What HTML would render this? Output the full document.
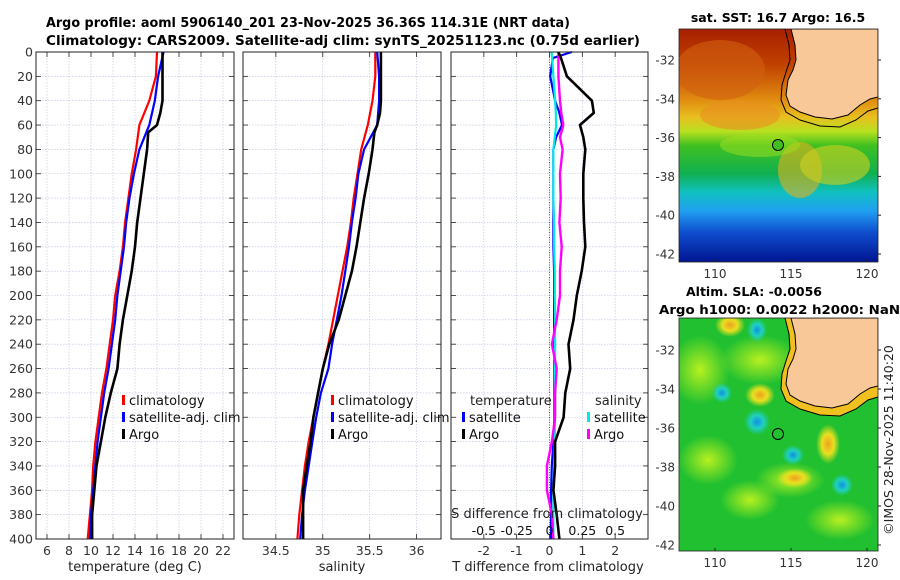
<!DOCTYPE html>
<html><head><meta charset="utf-8"><style>
body{margin:0;background:#fff;}
svg{display:block;font-family:"DejaVu Sans","Liberation Sans",sans-serif;}
</style></head><body>
<svg id="fig" width="900" height="580" viewBox="0 0 900 580">
<defs>
<linearGradient id="sstg" x1="0" y1="0" x2="0" y2="1">
<stop offset="0" stop-color="#a82000"/><stop offset="0.15" stop-color="#c04000"/>
<stop offset="0.3" stop-color="#e08a10"/><stop offset="0.38" stop-color="#e8c020"/>
<stop offset="0.44" stop-color="#b8e020"/><stop offset="0.5" stop-color="#40c020"/>
<stop offset="0.62" stop-color="#10b050"/><stop offset="0.7" stop-color="#10c0c0"/>
<stop offset="0.78" stop-color="#20a0f0"/><stop offset="0.87" stop-color="#1050d0"/>
<stop offset="1" stop-color="#001490"/></linearGradient>
<radialGradient id="blobY"><stop offset="0" stop-color="#f0a020"/><stop offset="0.5" stop-color="#e8e020"/><stop offset="1" stop-color="#e8e020" stop-opacity="0"/></radialGradient>
<radialGradient id="blobC"><stop offset="0" stop-color="#1090e0"/><stop offset="0.5" stop-color="#20d0c0"/><stop offset="1" stop-color="#20d0c0" stop-opacity="0"/></radialGradient>
<radialGradient id="blobL"><stop offset="0" stop-color="#b8f020"/><stop offset="1" stop-color="#b8f020" stop-opacity="0"/></radialGradient>
<clipPath id="m1clip"><rect x="679" y="29" width="199" height="233"/></clipPath>
<clipPath id="m2clip"><rect x="679" y="318" width="199" height="233"/></clipPath>
</defs>
<text x="46" y="27" font-size="13" font-weight="bold" textLength="524" lengthAdjust="spacingAndGlyphs">Argo profile: aoml 5906140_201 23-Nov-2025 36.36S 114.31E (NRT data)</text>
<text x="46" y="45" font-size="13" font-weight="bold" textLength="594" lengthAdjust="spacingAndGlyphs">Climatology: CARS2009. Satellite-adj clim: synTS_20251123.nc (0.75d earlier)</text>
<g id="panels"></g>

<g>
<text x="778" y="22" font-size="12.5" font-weight="bold" text-anchor="middle">sat. SST: 16.7 Argo: 16.5</text>
<g clip-path="url(#m1clip)">
<rect x="679" y="29" width="199" height="233" fill="url(#sstg)"/>
<ellipse cx="720" cy="70" rx="45" ry="30" fill="#d06010" opacity="0.6"/>
<ellipse cx="740" cy="115" rx="40" ry="15" fill="#e89020" opacity="0.6"/>
<ellipse cx="800" cy="170" rx="22" ry="28" fill="#e0b020" opacity="0.6"/>
<ellipse cx="835" cy="165" rx="35" ry="20" fill="#d0d020" opacity="0.6"/>
<ellipse cx="760" cy="145" rx="40" ry="12" fill="#a0e020" opacity="0.5"/>
<path d="M791,29 L795,45 L796,60 L793,70 L788,80 L786,95 L790,106 L800,112 L815,117 L832,119 L848,115 L860,105 L870,99 L878,97 L878,29 Z" fill="#f8c898" stroke="#000" stroke-width="1"/>
<path d="M785,29 L789,45 L790,60 L786,72 L782,85 L781,100 L786,112 L800,120 L820,126 L840,127 L856,120 L868,111 L878,108" fill="none" stroke="#000" stroke-width="1"/>
<circle cx="778" cy="145" r="5.5" fill="#40c020" stroke="#000" stroke-width="1"/>
</g>
<rect x="679" y="29" width="199" height="233" fill="none" stroke="#222" stroke-width="0.8"/>
<g id="m1ticks" font-size="12" fill="#333"></g>
</g>

<g>
<text x="754" y="296" font-size="12.5" font-weight="bold" text-anchor="middle">Altim. SLA: -0.0056</text>
<text x="659" y="314" font-size="12.5" font-weight="bold" textLength="241" lengthAdjust="spacingAndGlyphs">Argo h1000: 0.0022 h2000: NaN</text>
<g clip-path="url(#m2clip)">
<rect x="679" y="318" width="199" height="233" fill="#20c030"/>
<ellipse cx="700" cy="370" rx="30" ry="35" fill="url(#blobL)"/>
<ellipse cx="760" cy="360" rx="40" ry="25" fill="url(#blobL)"/>
<ellipse cx="708" cy="460" rx="30" ry="25" fill="url(#blobL)"/>
<ellipse cx="790" cy="480" rx="35" ry="18" fill="url(#blobL)"/>
<ellipse cx="750" cy="500" rx="30" ry="20" fill="url(#blobL)"/>
<ellipse cx="840" cy="520" rx="35" ry="20" fill="url(#blobL)"/>
<ellipse cx="730" cy="325" rx="15" ry="12" fill="url(#blobY)"/>
<ellipse cx="760" cy="395" rx="15" ry="12" fill="url(#blobY)"/>
<ellipse cx="828" cy="444" rx="12" ry="20" fill="url(#blobY)"/>
<ellipse cx="795" cy="478" rx="18" ry="10" fill="url(#blobY)"/>
<ellipse cx="757" cy="422" rx="13" ry="13" fill="url(#blobC)"/>
<ellipse cx="722" cy="393" rx="10" ry="10" fill="url(#blobC)"/>
<ellipse cx="793" cy="455" rx="11" ry="10" fill="url(#blobC)"/>
<ellipse cx="842" cy="485" rx="11" ry="11" fill="url(#blobC)"/>
<ellipse cx="757" cy="330" rx="10" ry="12" fill="url(#blobC)"/>
<path d="M785,318 L789,334 L790,349 L786,361 L782,374 L781,389 L786,401 L800,409 L820,415 L840,416 L856,409 L868,400 L878,397 L878,318 Z" fill="#f0c020"/>
<path d="M791,318 L795,334 L796,349 L793,359 L788,369 L786,384 L790,395 L800,401 L815,406 L832,408 L848,404 L860,394 L870,388 L878,386 L878,318 Z" fill="#f8c898" stroke="#000" stroke-width="1"/>
<path d="M785,318 L789,334 L790,349 L786,361 L782,374 L781,389 L786,401 L800,409 L820,415 L840,416 L856,409 L868,400 L878,397" fill="none" stroke="#000" stroke-width="1"/>
<circle cx="778" cy="434" r="5.5" fill="none" stroke="#000" stroke-width="1"/>
</g>
<rect x="679" y="318" width="199" height="233" fill="none" stroke="#222" stroke-width="0.8"/>
<g id="m2ticks" font-size="12" fill="#333"></g>
</g>
<text transform="translate(893,440) rotate(-90)" font-size="12.5" fill="#222" text-anchor="middle">©IMOS 28-Nov-2025 11:40:20</text>
</svg>
<script>
const depthT = [0,20,40,60,80,100,120,140,160,180,200,220,240,260,280,300,320,340,360,380,400];
const tempClim = [16.0,15.9,15.3,14.4,14.1,13.7,13.4,13.1,12.9,12.6,12.2,12.0,11.7,11.4,11.0,10.7,10.4,10.2,10.1,9.9,9.7];
const tempSat = [16.6,16.1,15.8,15.3,14.4,13.9,13.5,13.2,13.0,12.7,12.4,12.2,11.9,11.6,11.2,10.9,10.6,10.4,10.2,10.0,9.9];
const depthArgo = [0,20,40,50,60,66,80,100,120,140,160,180,200,220,240,260,280,300,320,340,360,380,400];
const tempArgo = [16.5,16.5,16.5,16.3,16.0,15.2,15.1,14.8,14.5,14.2,14.0,13.7,13.3,12.9,12.6,12.4,11.8,11.3,10.9,10.5,10.3,10.1,10.1];
const salClim = [35.56,35.56,35.53,35.48,35.41,35.37,35.33,35.30,35.26,35.21,35.16,35.11,35.06,35.00,34.95,34.90,34.85,34.81,34.78,34.75,34.73];
const salSat = [35.58,35.60,35.60,35.58,35.44,35.38,35.35,35.31,35.28,35.24,35.20,35.15,35.10,35.06,34.98,34.93,34.89,34.85,34.81,34.78,34.76];
const salArgo = [35.62,35.62,35.62,35.61,35.58,35.55,35.53,35.49,35.44,35.40,35.36,35.31,35.24,35.17,35.07,35.00,34.95,34.90,34.87,34.83,34.79,34.79,34.79];
const depthDiff = [0,5,20,40,50,60,70,80,100,120,140,160,180,200,220,240,260,280,300,320,340,360,380,400];
const tDiffArgo = [0.27,0.35,0.53,1.29,1.35,0.93,1.03,1.09,1.03,1.03,1.05,1.09,0.98,0.83,0.73,0.58,0.63,0.48,0.43,0.17,0.17,0.12,0.22,0.30];
const tDiffSat = [0.68,0.10,0.02,0.17,0.30,0.38,0.20,0.12,0.12,0.12,0.12,0.12,0.14,0.14,0.14,0.15,0.15,0.15,0.15,0.12,0.07,0.05,0.05,0.05];
const sDiffSat = [0.015,0.02,0.03,0.043,0.048,0.05,0.04,0.03,0.03,0.03,0.035,0.035,0.04,0.04,0.043,0.043,0.043,0.043,0.043,0.04,0.035,0.03,0.03,0.03];
const sDiffArgo = [0.068,0.068,0.068,0.08,0.09,0.105,0.08,0.1,0.08,0.085,0.075,0.093,0.08,0.08,0.055,0.018,0.055,0.043,0.043,0.018,-0.02,-0.02,0.018,0.03];
const depthTicks = [0,20,40,60,80,100,120,140,160,180,200,220,240,260,280,300,320,340,360,380,400];
const tempTicks = [6,8,10,12,14,16,18,20,22];
const salTicks = [34.5,35,35.5,36];
const tDiffTicks = [-2,-1,0,1,2];
const sDiffTicks = [-0.5,-0.25,0,0.25,0.5];
const lonTicks = [110,115,120];
const latTicks = [-32,-34,-36,-38,-40,-42];

const NS='http://www.w3.org/2000/svg';
const root=document.getElementById('panels');
function mk(tag,at,parent){const e=document.createElementNS(NS,tag);for(const k in at)e.setAttribute(k,at[k]);(parent||root).appendChild(e);return e;}
const Y0=52,Y1=539;
const yD=d=>Y0+(d/400)*(Y1-Y0);

function panel(name,x0,x1,xmin,xmax){
  const sx=v=>x0+(v-xmin)/(xmax-xmin)*(x1-x0);
  const g=mk('g',{});
  
  
  return {g,sx,x0,x1};
}
function grid(p,ticks,showLeftLabels){
  depthTicks.forEach(d=>{
    const y=yD(d);
    if(d>0&&d<400){mk('line',{x1:p.x0,x2:p.x1,y1:y,y2:y,stroke:'#b8c0dc','stroke-width':0.6,'stroke-dasharray':'1.5,1.5'},p.g);}
    mk('line',{x1:p.x0,x2:p.x0+5,y1:y,y2:y,stroke:'#222','stroke-width':0.8},p.g);
    mk('line',{x1:p.x1-5,x2:p.x1,y1:y,y2:y,stroke:'#222','stroke-width':0.8},p.g);
    if(showLeftLabels){const t=mk('text',{x:p.x0-3,y:y+4.5,'font-size':12.5,'text-anchor':'end',fill:'#333'},p.g);t.textContent=d;
      
      }
  });
  ticks.forEach(v=>{
    const x=p.sx(v);
    mk('line',{x1:x,x2:x,y1:Y0,y2:Y1,stroke:'#b8c0dc','stroke-width':0.6,'stroke-dasharray':'1.5,1.5'},p.g);
    mk('line',{x1:x,x2:x,y1:Y1,y2:Y1-5,stroke:'#222','stroke-width':0.8},p.g);
    mk('line',{x1:x,x2:x,y1:Y0,y2:Y0+5,stroke:'#222','stroke-width':0.8},p.g);
  });
}
function tickLabels(p,ticks,y,cls){
  ticks.forEach(v=>{const t=mk('text',{x:p.sx(v),y:y,'font-size':12.5,'text-anchor':'middle',fill:'#333'},p.g);t.textContent=v;
    
    });
}
function line(p,xs,ds,color,w,name,sx){
  const f=sx||p.sx;
  const pts=xs.map((v,i)=>f(v).toFixed(1)+','+yD(ds[i]).toFixed(1)).join(' ');
  const l=mk('polyline',{points:pts,fill:'none',stroke:color,'stroke-width':w,'stroke-linejoin':'round'},p.g);
  
  
}
function frame(p){mk('rect',{x:p.x0,y:Y0,width:p.x1-p.x0,height:Y1-Y0,fill:'none',stroke:'#222','stroke-width':1},p.g);}
function legend(p,x,y,items){
  items.forEach((it,i)=>{
    const yy=y+i*17;
    mk('rect',{x:x,y:yy-10,width:3,height:10,fill:it[1]},p.g);
    const t=mk('text',{x:x+7,y:yy,'font-size':13,fill:'#111'},p.g);t.textContent=it[0];
    
    
  });
}
function label(p,x,y,txt,name,anchor){
  const t=mk('text',{x:x,y:y,'font-size':13,'text-anchor':anchor||'middle',fill:'#222'},p.g);t.textContent=txt;
  
  
}

const p1=panel('temperature-panel',36,234,5,23);
grid(p1,tempTicks,true);
line(p1,tempClim,depthT,'#ff0000',2.2,'temp-climatology-line');
line(p1,tempSat,depthT,'#0000ff',2.2,'temp-satellite-line');
line(p1,tempArgo,depthArgo,'#000',2.6,'temp-argo-line');
frame(p1);
tickLabels(p1,tempTicks,555,'temp-tick-label');
label(p1,135,571,'temperature (deg C)','x-axis-title-temperature');
legend(p1,122,405,[['climatology','#f00'],['satellite-adj. clim','#00f'],['Argo','#000']]);

const p2=panel('salinity-panel',243,441,34.15,36.26);
grid(p2,salTicks,false);
line(p2,salClim,depthT,'#ff0000',2.2,'sal-climatology-line');
line(p2,salSat,depthT,'#0000ff',2.2,'sal-satellite-line');
line(p2,salArgo,depthArgo,'#000',2.6,'sal-argo-line');
frame(p2);
tickLabels(p2,salTicks,555,'salinity-tick-label');
label(p2,342,571,'salinity','x-axis-title-salinity');
legend(p2,331,405,[['climatology','#f00'],['satellite-adj. clim','#00f'],['Argo','#000']]);

const p3=panel('difference-panel',451,648,-3,3);
const sS=v=>p3.sx(v*4);
grid(p3,tDiffTicks,false);
mk('line',{x1:p3.sx(0),x2:p3.sx(0),y1:Y0,y2:Y1,stroke:'#444','stroke-width':0.8,'stroke-dasharray':'1,1.5'},p3.g);
line(p3,tDiffSat,depthDiff,'#0000ff',2.2,'tdiff-satellite-line');
line(p3,sDiffSat,depthDiff,'#00e8e8',2.2,'sdiff-satellite-line',sS);
line(p3,sDiffArgo,depthDiff,'#ff00ff',2.4,'sdiff-argo-line',sS);
line(p3,tDiffArgo,depthDiff,'#000',2.6,'tdiff-argo-line');
frame(p3);
tickLabels(p3,tDiffTicks,555,'tdiff-tick-label');
label(p3,548,571,'T difference from climatology','x-axis-title-tdiff');
label(p3,547,518,'S difference from climatology','s-diff-axis-title');
sDiffTicks.forEach(v=>{const t=mk('text',{x:sS(v),y:535,'font-size':12.5,'text-anchor':'middle',fill:'#111'},p3.g);t.textContent=v;
  
  });
label(p3,470,405,'temperature','legend-temperature-header','start');
label(p3,595,405,'salinity','legend-salinity-header','start');
legend(p3,462,422,[['satellite','#00f'],['Argo','#000']]);
legend(p3,587,422,[['satellite','#00e8e8'],['Argo','#f0f']]);

function mapTicks(id,x0,x1,yBot,latY0,latStep){
  const g=document.getElementById(id);
  const lonX=l=>715+(l-110)*15.2;
  lonTicks.forEach(l=>{
    const x=lonX(l);
    mk('line',{x1:x,x2:x,y1:yBot,y2:yBot-3,stroke:'#222'},g);
    const t=mk('text',{x:x,y:yBot+16,'text-anchor':'middle'},g);t.textContent=l;
    
    
  });
  latTicks.forEach(la=>{
    const y=latY0+(-32-la)*latStep;
    mk('line',{x1:x1,x2:x1+3,y1:y,y2:y,stroke:'#222'},g);
    const t=mk('text',{x:x0-4,y:y+4.5,'text-anchor':'end'},g);t.textContent=la;
    
    
  });
}
mapTicks('m1ticks',679,878,262,60,19.4);
mapTicks('m2ticks',679,878,551,350,19.5);
</script>
</body></html>
